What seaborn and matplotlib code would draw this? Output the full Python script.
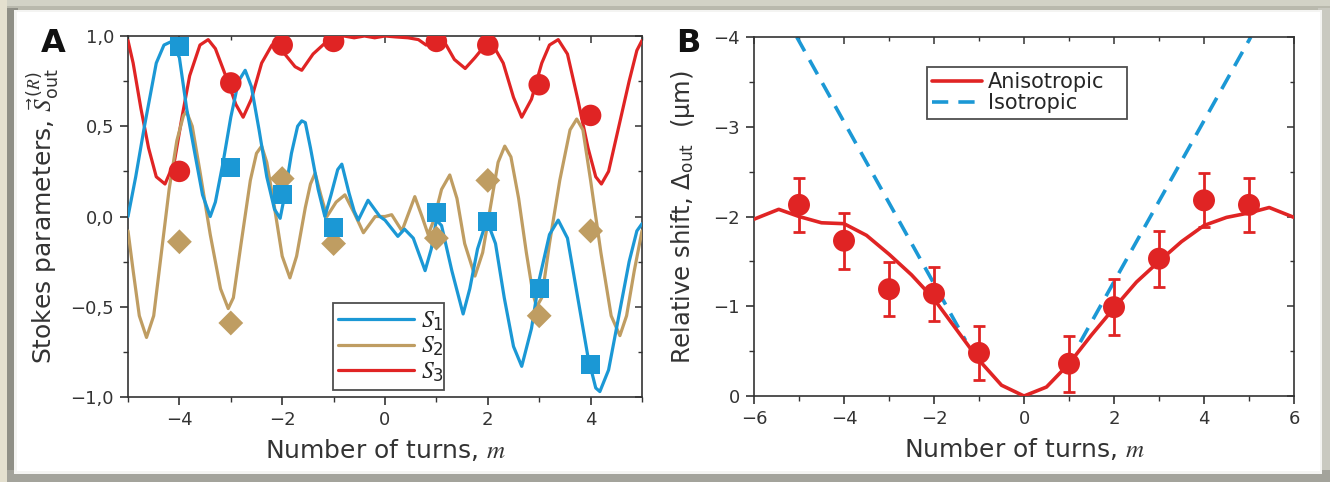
import numpy as np
import pandas as pd
import matplotlib
matplotlib.use("Agg")
import matplotlib.pyplot as plt
from matplotlib.patches import Rectangle
from matplotlib.ticker import MultipleLocator, FixedLocator, FixedFormatter
import seaborn as sns

# ---------------- data: panel A ----------------
s1_m = [-5.0, -4.85, -4.68, -4.45, -4.3, -4.15, -4.0, -3.86, -3.7, -3.55, -3.4,
        -3.3, -3.15, -3.0, -2.85, -2.72, -2.6, -2.45, -2.3, -2.15, -2.04,
        -1.95, -1.82, -1.7, -1.62, -1.55, -1.45, -1.3, -1.17, -1.05, -0.92, -0.84,
        -0.7, -0.6, -0.52, -0.33, -0.1, 0.0, 0.25, 0.38, 0.55, 0.78, 0.9, 1.0, 1.1,
        1.3, 1.52, 1.65, 1.8, 1.98, 2.15, 2.32, 2.5, 2.66, 2.85, 3.0, 3.2, 3.37,
        3.55, 3.75, 3.95, 4.1, 4.18, 4.35, 4.55, 4.75, 4.9, 5.0]
s1_v = [0.0, 0.22, 0.50, 0.85, 0.95, 0.97, 0.88, 0.60, 0.35, 0.12, 0.0,
        0.08, 0.30, 0.55, 0.75, 0.81, 0.72, 0.48, 0.22, 0.04, -0.01,
        0.12, 0.35, 0.50, 0.53, 0.52, 0.38, 0.15, 0.0, 0.12, 0.26, 0.29,
        0.13, 0.03, -0.02, 0.09, 0.0, -0.02, -0.11, -0.07, -0.12, -0.30, -0.18, -0.02, -0.05,
        -0.30, -0.54, -0.40, -0.18, -0.02, -0.15, -0.45, -0.72, -0.83, -0.62, -0.35, -0.10, -0.02,
        -0.12, -0.45, -0.78, -0.95, -0.97, -0.85, -0.55, -0.25, -0.08, -0.04]

s2_m = [-5.0, -4.9, -4.78, -4.64, -4.5, -4.35, -4.2, -4.05, -3.92, -3.86, -3.75, -3.6,
        -3.4, -3.2, -3.05, -2.95, -2.8, -2.62, -2.5, -2.4, -2.3, -2.15, -2.0, -1.85,
        -1.72, -1.55, -1.45, -1.36, -1.25, -1.13, -0.95, -0.78, -0.6, -0.42, -0.19, 0.0,
        0.13, 0.33, 0.58, 0.72, 0.84, 0.95, 1.1, 1.26, 1.4, 1.55, 1.75, 1.9, 2.05, 2.2,
        2.33, 2.45, 2.6, 2.75, 2.88, 2.95, 3.05, 3.2, 3.4, 3.6, 3.73, 3.85, 4.0, 4.2,
        4.4, 4.57, 4.7, 4.85, 5.0]
s2_v = [-0.08, -0.30, -0.55, -0.67, -0.55, -0.20, 0.15, 0.42, 0.56, 0.58, 0.50, 0.25,
        -0.10, -0.40, -0.51, -0.45, -0.15, 0.20, 0.35, 0.39, 0.30, 0.05, -0.22, -0.34,
        -0.22, 0.05, 0.18, 0.24, 0.12, 0.0, 0.08, 0.12, 0.02, -0.09, 0.0, 0.0,
        0.01, -0.08, 0.11, 0.0, -0.10, -0.02, 0.15, 0.23, 0.10, -0.15, -0.33, -0.20, 0.05, 0.30,
        0.39, 0.33, 0.10, -0.20, -0.43, -0.50, -0.45, -0.15, 0.20, 0.48, 0.54, 0.48, 0.20, -0.20,
        -0.55, -0.66, -0.55, -0.30, -0.08]

s3_m = [-5.0, -4.9, -4.75, -4.6, -4.45, -4.28, -4.1, -3.95, -3.8, -3.6, -3.44, -3.3,
        -3.1, -3.0, -2.9, -2.76, -2.6, -2.4, -2.2, -2.1, -1.95, -1.75, -1.62, -1.4,
        -1.17, -1.0, -0.8, -0.6, -0.4, -0.2, 0.0, 0.2, 0.45, 0.65, 0.8, 0.95, 1.15,
        1.35, 1.56, 1.75, 1.98, 2.1, 2.3, 2.5, 2.66, 2.85, 3.05, 3.2, 3.37, 3.55, 3.75,
        3.95, 4.1, 4.21, 4.35, 4.55, 4.75, 4.9, 5.0]
s3_v = [0.975, 0.85, 0.60, 0.38, 0.22, 0.18, 0.30, 0.55, 0.78, 0.95, 0.98, 0.93,
        0.78, 0.70, 0.62, 0.55, 0.65, 0.85, 0.95, 0.96, 0.90, 0.83, 0.81, 0.90,
        0.96, 0.98, 1.0, 0.99, 1.0, 0.99, 1.0, 0.995, 0.99, 0.98, 0.95, 0.97, 0.97,
        0.87, 0.82, 0.88, 0.96, 0.95, 0.85, 0.66, 0.55, 0.65, 0.85, 0.95, 0.98, 0.90, 0.65,
        0.38, 0.22, 0.18, 0.25, 0.50, 0.75, 0.92, 0.975]

exp_m = [-4, -3, -2, -1, 1, 2, 3, 4]
exp_s1 = [0.94, 0.27, 0.12, -0.06, 0.02, -0.03, -0.40, -0.82]
exp_s2 = [-0.14, -0.59, 0.21, -0.15, -0.12, 0.20, -0.55, -0.08]
exp_s3 = [0.25, 0.74, 0.95, 0.97, 0.97, 0.95, 0.73, 0.56]

yticks_A = [-1.0, -0.5, 0.0, 0.5, 1.0]
ytick_labels_A = ["\u22121,0", "\u22120,5", "0,0", "0,5", "1,0"]
xticks_A = [-4, -2, 0, 2, 4]
xtick_labels_A = ["\u22124", "\u22122", "0", "2", "4"]

# ---------------- data: panel B ----------------
aniso_m = [-6, -5.45, -5.0, -4.5, -4.0, -3.5, -3.0, -2.5, -2.0, -1.5, -1.0, -0.5, 0,
           0.5, 1.0, 1.5, 2.0, 2.5, 3.0, 3.5, 4.0, 4.5, 5.0, 5.45, 6.0]
aniso_d = [-1.97, -2.08, -2.0, -1.93, -1.92, -1.79, -1.58, -1.35, -1.08, -0.74, -0.40, -0.12, 0.0,
           -0.10, -0.36, -0.68, -0.98, -1.27, -1.50, -1.72, -1.90, -1.99, -2.04, -2.10, -1.99]
iso_left_m = [-5.05, -1.3]
iso_left_d = [-4.0, -0.62]
iso_right_m = [1.25, 5.04]
iso_right_d = [-0.60, -4.0]
pts_m = [-5, -4, -3, -2, -1, 1, 2, 3, 4, 5]
pts_d = [-2.13, -1.73, -1.19, -1.14, -0.48, -0.36, -0.99, -1.53, -2.18, -2.13]
pts_err = [0.30, 0.31, 0.30, 0.30, 0.30, 0.31, 0.31, 0.31, 0.30, 0.30]

xticks_B = [-6, -4, -2, 0, 2, 4, 6]
xtick_labels_B = ["\u22126", "\u22124", "\u22122", "0", "2", "4", "6"]
yticks_B = [0, -1, -2, -3, -4]
ytick_labels_B = ["0", "\u22121", "\u22122", "\u22123", "\u22124"]

# ---------------- style ----------------
sns.set_theme(style="ticks")
plt.rcParams['font.family'] = ['DejaVu Sans']
plt.rcParams['mathtext.fontset'] = 'custom'
plt.rcParams['mathtext.rm'] = 'DejaVu Sans'
plt.rcParams['mathtext.it'] = 'STIXGeneral:italic'
plt.rcParams['mathtext.bf'] = 'DejaVu Sans:bold'
plt.rcParams['axes.edgecolor'] = '#222222'
plt.rcParams['axes.linewidth'] = 1.2

BLUE = '#1b98d5'
TAN = '#bf9d62'
RED = '#e02424'
DARK = '#333333'

W, H = 1330, 482
fig = plt.figure(figsize=(W / 100, H / 100), dpi=100)
fig.patch.set_facecolor('#a9a99c')

def frect(x0, y0, x1, y1, color, z=0):
    # rectangle in pixel coordinates (origin top-left)
    fig.patches.append(Rectangle((x0 / W, 1 - y1 / H), (x1 - x0) / W, (y1 - y0) / H,
                                 transform=fig.transFigure, facecolor=color,
                                 edgecolor='none', zorder=-20 + z))

# bevel frame
frect(0, 0, 1330, 482, '#b9b9ad', 0)
frect(0, 0, 1330, 6, '#d2d2c6', 1)
frect(0, 0, 7, 482, '#e4e0cf', 1)
frect(7, 8, 18, 482, '#8f8f86', 2)
frect(1318, 8, 1330, 482, '#c9c9c0', 2)
frect(7, 470, 1330, 482, '#a3a39b', 3)
frect(14, 10, 1322, 474, '#f4f4f2', 4)
frect(17, 12, 1320, 471, '#ffffff', 5)

def style_axes(ax):
    ax.tick_params(which='both', direction='out', top=False, right=False,
                   labelsize=13, colors=DARK, labelcolor=DARK)
    ax.tick_params(which='major', length=6, width=1.2, pad=4)
    ax.tick_params(which='minor', length=3.5, width=1.0)
    for side in ['left', 'right', 'top', 'bottom']:
        ax.spines[side].set_visible(True)
        ax.spines[side].set_color(DARK)
        ax.spines[side].set_linewidth(1.2)
    ax.set_facecolor('white')

def mirror_ticks(ax, which_axis, major, minor):
    # inward ticks on top / right side
    if which_axis == 'x':
        sec = ax.secondary_xaxis('top')
    else:
        sec = ax.secondary_yaxis('right')
    sec.set_ticks(major)
    sec.set_ticks(minor, minor=True)
    sec.tick_params(which='both', direction='in', labelsize=0, colors=DARK)
    sec.tick_params(which='major', length=5, width=1.1)
    sec.tick_params(which='minor', length=3, width=1.0)
    if which_axis == 'x':
        sec.set_xticklabels([])
    else:
        sec.set_yticklabels([])
    for s in sec.spines.values():
        s.set_visible(False)

# ---------------- panel A ----------------
axA = fig.add_axes([128 / W, 1 - 397 / H, (642 - 128) / W, (397 - 36) / H])
style_axes(axA)
lw = 2.3
sns.lineplot(x=s3_m, y=s3_v, ax=axA, color=RED, lw=lw, sort=False, estimator=None,
             label=r'$S_3$', zorder=3)
sns.lineplot(x=s2_m, y=s2_v, ax=axA, color=TAN, lw=lw, sort=False, estimator=None,
             label=r'$S_2$', zorder=3)
sns.lineplot(x=s1_m, y=s1_v, ax=axA, color=BLUE, lw=lw, sort=False, estimator=None,
             label=r'$S_1$', zorder=3)
sns.scatterplot(x=exp_m, y=exp_s3, ax=axA, color=RED, marker='o', s=240,
                edgecolor='none', zorder=4, legend=False)
sns.scatterplot(x=exp_m, y=exp_s2, ax=axA, color=TAN, marker='D', s=160,
                edgecolor='none', zorder=4, legend=False)
sns.scatterplot(x=exp_m, y=exp_s1, ax=axA, color=BLUE, marker='s', s=190,
                edgecolor='none', zorder=5, legend=False)
axA.set_xlim(-5, 5)
axA.set_ylim(-1.0, 1.0)
axA.xaxis.set_major_locator(FixedLocator(xticks_A))
axA.xaxis.set_major_formatter(FixedFormatter(xtick_labels_A))
axA.xaxis.set_minor_locator(MultipleLocator(1))
axA.yaxis.set_major_locator(FixedLocator(yticks_A))
axA.yaxis.set_major_formatter(FixedFormatter(ytick_labels_A))
axA.yaxis.set_minor_locator(MultipleLocator(0.25))
mirror_ticks(axA, 'x', xticks_A, [-5, -3, -1, 1, 3, 5])
mirror_ticks(axA, 'y', yticks_A, [-0.75, -0.25, 0.25, 0.75])
axA.set_xlabel(r'Number of turns, $m$', fontsize=18, color=DARK, labelpad=6)
axA.set_ylabel(r'Stokes parameters, $\vec{\mathit{S}}^{\,(R)}_{\rm out}$', fontsize=18,
               color=DARK, labelpad=6)
h, l = axA.get_legend_handles_labels()
order = [2, 1, 0]
legA = axA.legend([h[i] for i in order], [l[i] for i in order],
                  loc='lower left', bbox_to_anchor=(0.398, 0.02, 0.217, 0.27),
                  mode='expand', frameon=True, fancybox=False, edgecolor='#222222',
                  fontsize=17, handlelength=3.2, handletextpad=0.3, labelspacing=0.05,
                  borderpad=0.25, borderaxespad=0)
legA.get_frame().set_linewidth(1.3)
legA.set_zorder(10)

# ---------------- panel B ----------------
axB = fig.add_axes([754 / W, 1 - 396 / H, (1294 - 754) / W, (396 - 37) / H])
style_axes(axB)
sns.lineplot(x=aniso_m, y=aniso_d, ax=axB, color=RED, lw=2.6, sort=False, estimator=None,
             label='Anisotropic', zorder=3)
sns.lineplot(x=iso_left_m, y=iso_left_d, ax=axB, color=BLUE, lw=2.6, sort=False,
             estimator=None, label='Isotropic', zorder=2)
sns.lineplot(x=iso_right_m, y=iso_right_d, ax=axB, color=BLUE, lw=2.6, sort=False,
             estimator=None, zorder=2)
for ln in axB.lines[1:3]:
    ln.set_linestyle((0, (4.5, 2.8)))
axB.errorbar(pts_m, pts_d, yerr=pts_err, fmt='none', ecolor=RED, elinewidth=2.0,
             capsize=4, capthick=2.0, zorder=4)
sns.scatterplot(x=pts_m, y=pts_d, ax=axB, color=RED, marker='o', s=250,
                edgecolor='none', zorder=5, legend=False)
axB.set_xlim(-6, 6)
axB.set_ylim(0, -4)
axB.xaxis.set_major_locator(FixedLocator(xticks_B))
axB.xaxis.set_major_formatter(FixedFormatter(xtick_labels_B))
axB.xaxis.set_minor_locator(MultipleLocator(1))
axB.yaxis.set_major_locator(FixedLocator(yticks_B))
axB.yaxis.set_major_formatter(FixedFormatter(ytick_labels_B))
axB.yaxis.set_minor_locator(MultipleLocator(0.5))
mirror_ticks(axB, 'x', xticks_B, [-5, -3, -1, 1, 3, 5])
mirror_ticks(axB, 'y', yticks_B, [-0.5, -1.5, -2.5, -3.5])
axB.set_xlabel(r'Number of turns, $m$', fontsize=18, color=DARK, labelpad=6)
axB.set_ylabel('Relative shift, \u0394$_{\\rm out}$  (\u03bcm)', fontsize=17.5,
               color=DARK, labelpad=12)
legB = axB.legend(loc='upper center', bbox_to_anchor=(0.32, 0.755, 0.37, 0.161),
                  mode='expand', frameon=True, fancybox=False, edgecolor='#222222',
                  fontsize=15, handlelength=2.4, handletextpad=0.3, labelspacing=0.05,
                  borderpad=0.25, borderaxespad=0)
legB.get_frame().set_linewidth(1.3)

# panel letters
fig.text(53 / W, 1 - 43 / H, 'A', fontsize=23, fontweight='bold', color='#111111',
         ha='center', va='center')
fig.text(688 / W, 1 - 44 / H, 'B', fontsize=23, fontweight='bold', color='#111111',
         ha='center', va='center')

fig.savefig('out.png', dpi=100, facecolor=fig.get_facecolor())
